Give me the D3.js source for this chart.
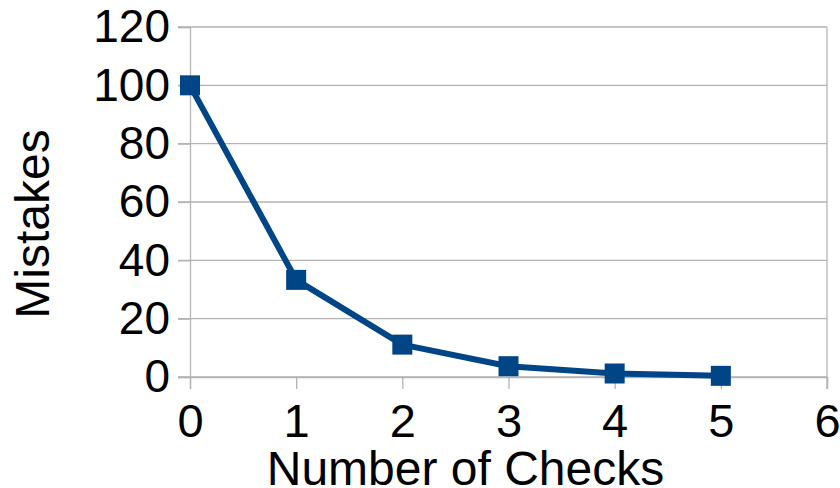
<!DOCTYPE html>
<html>
<head>
<meta charset="utf-8">
<script src="https://cdn.jsdelivr.net/npm/d3@7"></script>
<style>
  body { margin: 0; background: #fff; }
  text { font-family: "Liberation Sans", Arial, sans-serif; fill: #000; }
</style>
</head>
<body>
<div id="chart"></div>
<script>
// data
const checks = [0, 1, 2, 3, 4, 5];
const mistakes = [100, 33.3, 11.1, 3.7, 1.2, 0.4];
const xTicks = [0, 1, 2, 3, 4, 5, 6];
const yTicks = [0, 20, 40, 60, 80, 100, 120];

const data = checks.map((c, i) => ({x: c, y: mistakes[i]}));

const W = 840, H = 488;
const margin = {top: 27, right: 13, bottom: 111, left: 190},
    width = W - margin.left - margin.right,
    height = H - margin.top - margin.bottom;

const svg = d3.select("#chart")
    .append("svg")
    .attr("width", W)
    .attr("height", H)
    .append("g")
    .attr("transform", `translate(${margin.left}, ${margin.top})`);

const x = d3.scaleLinear().domain([0, 6]).range([0, width]);
const y = d3.scaleLinear().domain([0, 120]).range([height, 0]);

// horizontal gridlines
svg.append("g")
    .selectAll("line")
    .data(yTicks)
    .enter()
    .append("line")
    .attr("x1", -12)
    .attr("x2", width)
    .attr("y1", d => y(d))
    .attr("y2", d => y(d))
    .attr("stroke", "#b3b3b3")
    .attr("stroke-width", 1.3);

// right border line
svg.append("line")
    .attr("x1", width).attr("x2", width)
    .attr("y1", 0).attr("y2", height + 12)
    .attr("stroke", "#b3b3b3")
    .attr("stroke-width", 1.3);

// x axis
const xAxis = svg.append("g")
    .attr("transform", `translate(0, ${height})`)
    .call(d3.axisBottom(x).tickValues(xTicks).tickFormat(d3.format("d")).tickSize(12).tickPadding(15));
xAxis.select(".domain").attr("stroke", "#b3b3b3").attr("stroke-width", 1.3);
xAxis.selectAll(".tick line").attr("stroke", "#b3b3b3").attr("stroke-width", 1.3);
xAxis.selectAll("text").attr("font-size", 47).attr("font-family", "Liberation Sans").attr("fill", "#000");

// y axis
const yAxis = svg.append("g")
    .call(d3.axisLeft(y).tickValues(yTicks).tickFormat(d3.format("d")).tickSize(12).tickPadding(8));
yAxis.select(".domain").attr("stroke", "#b3b3b3").attr("stroke-width", 1.3);
yAxis.selectAll(".tick line").attr("stroke", "#b3b3b3").attr("stroke-width", 1.3);
yAxis.selectAll("text").attr("font-size", 46).attr("font-family", "Liberation Sans").attr("fill", "#000");

// axis titles
svg.append("text")
    .attr("x", width / 2 - 43)
    .attr("y", height + 108)
    .attr("text-anchor", "middle")
    .attr("font-size", 48)
    .text("Number of Checks");

svg.append("text")
    .attr("transform", `translate(${-141}, ${height / 2 + 22}) rotate(-90)`)
    .attr("text-anchor", "middle")
    .attr("font-size", 48)
    .text("Mistakes");

// line
svg.append("path")
    .datum(data)
    .attr("fill", "none")
    .attr("stroke", "#004586")
    .attr("stroke-width", 6)
    .attr("stroke-linejoin", "round")
    .attr("d", d3.line().x(d => x(d.x)).y(d => y(d.y)));

// markers
const s = 20;
svg.selectAll(".marker")
    .data(data)
    .enter()
    .append("rect")
    .attr("class", "marker")
    .attr("x", d => x(d.x) - s / 2)
    .attr("y", d => y(d.y) - s / 2)
    .attr("width", s)
    .attr("height", s)
    .attr("fill", "#004586");
</script>
</body>
</html>
